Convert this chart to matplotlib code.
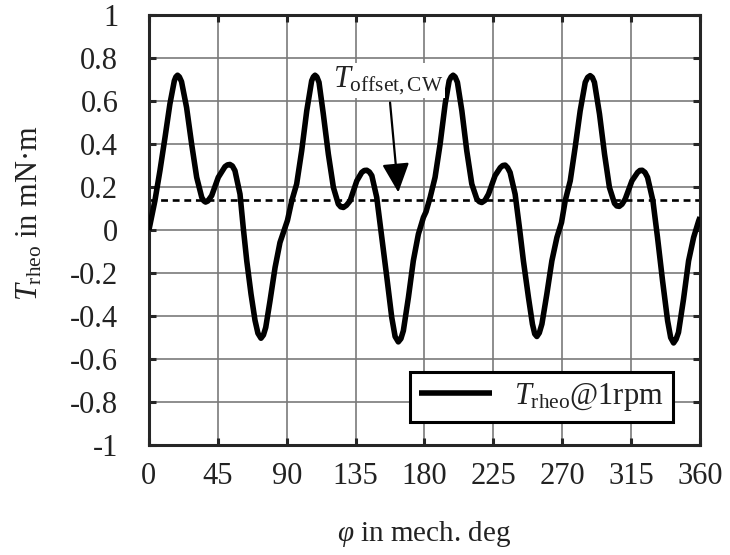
import numpy as np
import matplotlib
matplotlib.use("Agg")
import matplotlib.pyplot as plt

# Rheological torque, mechanical angle in degrees
phi_deg = [
    0.0, 3.9, 7.2, 10.5, 13.7, 16.6, 17.6, 18.7, 19.9, 21.3, 24.6, 27.9, 31.2,
    34.5, 35.8, 37.0, 38.5, 41.0, 45.3, 49.7, 51.3, 52.9, 54.5, 56.2, 59.5,
    61.6, 63.9, 66.7, 69.3, 71.2, 73.2, 74.8, 76.3, 79.1, 82.4, 85.6, 88.9,
    90.5,
    93.3, 96.5, 99.8, 103.1, 106.3, 107.4, 108.5, 109.7, 111.1, 113.9, 117.2,
    120.5, 123.7, 125.3, 127.0, 129.0, 131.4, 135.8, 139.0, 140.7, 142.3,
    144.0, 145.6, 148.8, 152.1, 155.4, 158.6, 160.8, 162.9, 164.6, 166.2,
    169.5, 172.7, 176.0, 179.3,
    181.0, 183.7, 186.9, 190.2, 193.5, 196.1, 197.4, 198.7, 200.0, 201.5,
    204.4, 207.6, 210.9, 214.2, 215.8, 217.4, 219.5, 221.8, 226.1, 229.5,
    231.1, 232.7, 234.3, 235.9, 239.2, 242.0, 244.6, 247.9, 250.5, 252.0,
    253.4, 255.0, 256.7, 259.9, 263.2, 266.5, 269.5,
    271.9, 275.2, 278.4, 281.7, 285.0, 286.6, 288.2, 289.6, 291.0, 294.3,
    297.6, 300.8, 304.1, 305.6, 307.2, 309.0, 311.1, 315.5, 319.2, 320.7,
    322.2, 324.0, 325.7, 329.2, 332.2, 335.5, 338.8, 340.8, 342.7, 344.3,
    345.9, 349.2, 352.5, 355.8, 359.1, 360.0,
]
t_rheo = [
    0.0, 0.136, 0.276, 0.43, 0.586, 0.694, 0.712, 0.72, 0.712, 0.69, 0.57,
    0.40, 0.245, 0.152, 0.136, 0.130, 0.135, 0.16, 0.245, 0.295, 0.303,
    0.305, 0.298, 0.276, 0.167, 0.012, -0.143, -0.298, -0.42, -0.48, -0.503,
    -0.488, -0.453, -0.329, -0.174, -0.058, 0.012, 0.045,
    0.136, 0.214, 0.369, 0.555, 0.694, 0.712, 0.72, 0.712, 0.687, 0.54, 0.353,
    0.198, 0.121, 0.108, 0.105, 0.115, 0.136, 0.229, 0.268, 0.277, 0.278,
    0.27, 0.253, 0.152, -0.034, -0.22, -0.406, -0.495, -0.52, -0.505, -0.468,
    -0.313, -0.143, -0.019, 0.059,
    0.085, 0.152, 0.245, 0.40, 0.586, 0.694, 0.712, 0.72, 0.712, 0.687,
    0.555, 0.369, 0.214, 0.144, 0.132, 0.128, 0.138, 0.167, 0.253, 0.29,
    0.30, 0.302, 0.29, 0.268, 0.167, 0.012, -0.143, -0.313, -0.437, -0.483,
    -0.495, -0.478, -0.437, -0.298, -0.143, -0.034, 0.035,
    0.136, 0.229, 0.384, 0.555, 0.687, 0.71, 0.718, 0.71, 0.687, 0.54,
    0.353, 0.198, 0.124, 0.112, 0.110, 0.12, 0.144, 0.229, 0.268, 0.277,
    0.278, 0.268, 0.245, 0.136, -0.034, -0.236, -0.422, -0.50, -0.525, -0.508,
    -0.476, -0.321, -0.143, -0.034, 0.043, 0.060,
]
t_offset = 0.14

x_ticks = [0, 45, 90, 135, 180, 225, 270, 315, 360]
y_ticks = [-1, -0.8, -0.6, -0.4, -0.2, 0, 0.2, 0.4, 0.6, 0.8, 1]
y_tick_labels = ["-1", "-0.8", "-0.6", "-0.4", "-0.2", "0",
                 "0.2", "0.4", "0.6", "0.8", "1"]

plt.rcParams["font.family"] = ["Liberation Serif", "DejaVu Serif"]
plt.rcParams["mathtext.fontset"] = "custom"
plt.rcParams["mathtext.rm"] = "Liberation Serif"
plt.rcParams["mathtext.it"] = "Liberation Serif:italic"
plt.rcParams["mathtext.bf"] = "Liberation Serif:bold"

_TEXT_C = "#222222"
_GRID_C = "#7a7a7a"
_SPINE_C = "#262626"
FS = 22

fig = plt.figure(figsize=(7.3, 5.55), dpi=100)
ax = fig.add_axes([0.204, 0.198, 0.755, 0.775])

ax.plot(phi_deg, t_rheo, color="black", lw=4.0, solid_joinstyle="round",
        solid_capstyle="butt", label=r"$T_{\mathrm{rheo}}$@1rpm", zorder=3)
ax.axhline(t_offset, color="black", lw=1.9, linestyle=(0, (2.6, 1.8)),
           zorder=2.5)

ax.set_xlim(0, 360)
ax.set_ylim(-1, 1)
ax.set_xticks(x_ticks)
ax.set_xticklabels([str(v) for v in x_ticks])
ax.set_yticks(y_ticks)
ax.set_yticklabels(y_tick_labels)
ax.grid(True, color=_GRID_C, lw=1.2)
ax.set_axisbelow(True)

for spine in ax.spines.values():
    spine.set_color(_SPINE_C)
    spine.set_linewidth(2.2)
ax.tick_params(axis="both", which="major", direction="in", length=5, width=2.2,
               color=_SPINE_C, top=True, right=True, labelsize=FS,
               labelcolor=_TEXT_C)
ax.tick_params(axis="y", pad=22)
ax.tick_params(axis="x", pad=12)

ax.set_xlabel(r"$\varphi$ in mech. deg", fontsize=21, color=_TEXT_C)
ax.xaxis.set_label_coords(0.5, -0.172)
ax.set_ylabel(r"$T_{\mathrm{rheo}}$ in mN·m", fontsize=FS, color=_TEXT_C)
ax.yaxis.set_label_coords(-0.19, 0.54)

# label of the offset line and its arrow
ax.text(120, 0.695, r"$T_{\mathrm{offset,CW}}$", fontsize=FS, color=_TEXT_C,
        ha="left", va="center", zorder=4,
        bbox=dict(boxstyle="square,pad=0.05", fc="white", ec="none"))
ax.annotate("", xy=(162.9, 0.175), xytext=(157.5, 0.593),
            arrowprops=dict(arrowstyle="-|>,head_length=0.9,head_width=0.42",
                            mutation_scale=20, color="black", lw=1.6,
                            shrinkA=0, shrinkB=0),
            zorder=4)

leg = ax.legend(loc="lower right", bbox_to_anchor=(0.95, 0.054),
                borderaxespad=0, fontsize=FS, fancybox=False, framealpha=1,
                edgecolor="black", handlelength=2.4, handletextpad=0.7,
                borderpad=0.3)
leg.get_frame().set_linewidth(2.2)
for t in leg.get_texts():
    t.set_color(_TEXT_C)

fig.savefig("out.png", dpi=100)
